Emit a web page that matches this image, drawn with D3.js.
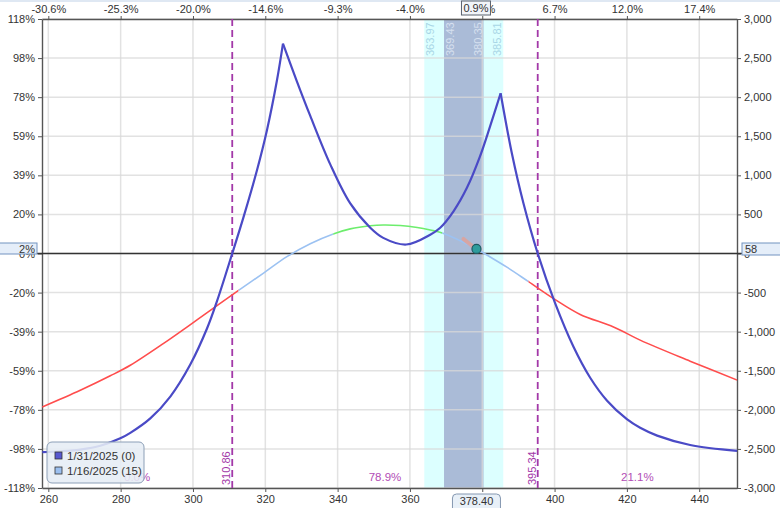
<!DOCTYPE html>
<html>
<head>
<meta charset="utf-8">
<script src="https://cdn.jsdelivr.net/npm/d3@7"></script>
<style>
    html, body { margin: 0; padding: 0; background: #fff; }
    #map { width: 780px; height: 508px; }
    text { font-family: "Liberation Sans", Arial, sans-serif; }
</style>
</head>
<body>
<div id="map"><svg></svg></div>
<script>
// price axis (bottom) and the % change labels on top
var priceTicks = [260, 280, 300, 320, 340, 360, 380, 400, 420, 440];
var topTickLabels = ["-30.6%", "-25.3%", "-20.0%", "-14.6%", "-9.3%", "-4.0%", "1.4%", "6.7%", "12.0%", "17.4%"];

// P&L axis (right) and return % (left)
var pnlTicks = [3000, 2500, 2000, 1500, 1000, 500, 0, -500, -1000, -1500, -2000, -2500, -3000];
var pctTickLabels = ["118%", "98%", "78%", "59%", "39%", "20%", "0%", "-20%", "-39%", "-59%", "-78%", "-98%", "-118%"];

// 1/31/2025 (0) - expiration curve
var expPrices = [258.34, 263.32, 268.85, 274.38, 279.91, 282.67, 288.2, 293.73, 299.26, 303.88, 306.64, 310.86, 314.0, 317.7, 320.46, 323.23, 324.89,
    328.76, 332.44, 337.97, 343.5, 349.03, 352.62, 359.0, 365.61, 368.38, 372.05, 375.76, 379.35, 382.12, 385.08,
    388.2, 391.41, 395.34, 400.17, 405.23, 409.85, 414.46, 419.99, 423.67, 428.37, 437.49, 450.49];
var expValues = [-2541, -2530, -2508, -2460, -2365, -2295, -2110, -1830, -1420, -960, -610, 0, 468, 1065, 1577, 2216, 2685,
    2200, 1760, 1140, 640, 330, 200, 115, 240, 330, 540, 840, 1240, 1620, 2050,
    1279, 639, 0, -639, -1194, -1590, -1880, -2120, -2230, -2330, -2450, -2525];

// 1/16/2025 (15) - today curve
var t0Prices = [258.34, 268.85, 277.14, 282.67, 291.88, 301.11, 306.64, 312.61, 319.52, 325.99, 332.44, 338.79, 343.49, 349.02, 352.62,
    357.32, 362.02, 365.61, 368.93, 378.40, 382.2, 386.81, 392.79, 400.17, 407.08, 416.29, 423.67, 437.49, 450.49];
var t0Values = [-1963, -1750, -1565, -1430, -1150, -850, -668, -472, -250, -40, 125, 250, 315, 355, 365,
    358, 332, 300, 262, 58, -45, -175, -360, -590, -780, -939, -1108, -1377, -1620];
var t0ZoneEdges = [312.61, 338.79, 368.93, 392.79];

var breakevens = [310.86, 395.34];
var probLabels = ["0.0%", "78.9%", "21.1%"];
var sdBands = [363.97, 369.43, 380.35, 385.81];
var currentPrice = 378.40, currentPnl = 58, currentPctLabel = "2%", changeLabel = "0.9%";
var legendLabels = ["1/31/2025 (0)", "1/16/2025 (15)"];

function drawChart() {
    var width = 780, height = 508,
        svg = d3.select('#map svg').attr('width', width).attr('height', height),
        x = d3.scaleLinear().domain([258.25, 450.45]).range([42, 737]),
        y = d3.scaleLinear().domain([-3000, 3000]).range([488, 19]),
        fmt = d3.formatLocale({decimal: ".", thousands: ",", grouping: [3], currency: ["$", ""], minus: "-"}).format(",");

    svg.append("rect").attr("width", width).attr("height", 2).attr("fill", "#dfe8f3");

    // 1 SD / 0.5 SD bands
    svg.append("rect")
        .attr("x", x(sdBands[0])).attr("y", 19)
        .attr("width", x(sdBands[3]) - x(sdBands[0])).attr("height", 469)
        .attr("fill", "#dcffff");
    svg.append("rect")
        .attr("x", x(sdBands[1])).attr("y", 19)
        .attr("width", x(sdBands[2]) - x(sdBands[1])).attr("height", 469)
        .attr("fill", "#aabbd7");

    // grid
    svg.append("g").selectAll("line")
        .data(priceTicks).enter().append("line")
        .attr("x1", function (d) { return x(d); }).attr("x2", function (d) { return x(d); })
        .attr("y1", 19).attr("y2", 488)
        .attr("stroke", "#d8d8d8").attr("stroke-opacity", 0.75).attr("stroke-width", 1.5);
    svg.append("g").selectAll("line")
        .data(pnlTicks).enter().append("line")
        .attr("x1", 42).attr("x2", 737)
        .attr("y1", function (d) { return y(d); }).attr("y2", function (d) { return y(d); })
        .attr("stroke", "#d8d8d8").attr("stroke-opacity", 0.75).attr("stroke-width", 1.5);

    // band labels
    svg.append("g").selectAll("text")
        .data(sdBands).enter().append("text")
        .attr("transform", function (d, i) {
            var px = x(d) + (i < 2 ? 6 : -6);
            return "translate(" + (px + 4) + ",56) rotate(-90)";
        })
        .attr("font-size", 11)
        .attr("fill", function (d, i) { return (i === 0 || i === 3) ? "#a9d6e6" : "#d6e0ef"; })
        .text(function (d) { return d3.format(".2f")(d); });

    // axes
    var axes = [
        d3.axisLeft(y).tickValues(pnlTicks).tickFormat(function (d, i) { return pctTickLabels[i]; }).tickSize(4).tickSizeOuter(0),
        d3.axisRight(y).tickValues(pnlTicks).tickFormat(fmt).tickSize(4).tickSizeOuter(0),
        d3.axisBottom(x).tickValues(priceTicks).tickSize(4).tickSizeOuter(0),
        d3.axisTop(x).tickValues(priceTicks).tickFormat(function (d, i) { return topTickLabels[i]; }).tickSize(3).tickSizeOuter(0)
    ];
    var offsets = ["translate(42,0)", "translate(737,0)", "translate(0,488)", "translate(0,19)"];
    axes.forEach(function (ax, i) {
        var g = svg.append("g").attr("transform", offsets[i]).call(ax);
        g.select(".domain").attr("stroke", "#555").attr("stroke-width", 1.4);
        g.selectAll(".tick line").attr("stroke", "#555");
        g.selectAll("text").attr("font-size", 11).attr("fill", "#333")
            .attr("font-family", "'Liberation Sans', Arial, sans-serif");
    });

    // zero line
    svg.append("line")
        .attr("x1", 37).attr("x2", 742).attr("y1", y(0)).attr("y2", y(0))
        .attr("stroke", "#333").attr("stroke-width", 1.3);

    // breakevens
    svg.append("g").selectAll("line")
        .data(breakevens).enter().append("line")
        .attr("x1", function (d) { return x(d); }).attr("x2", function (d) { return x(d); })
        .attr("y1", 19).attr("y2", 488)
        .attr("stroke", "#a338a8").attr("stroke-width", 1.8).attr("stroke-dasharray", "7,4");
    svg.append("g").selectAll("text")
        .data(breakevens).enter().append("text")
        .attr("transform", function (d) { return "translate(" + (x(d) - 2) + ",485) rotate(-90)"; })
        .attr("font-size", 11).attr("fill", "#a338a8")
        .text(function (d) { return d3.format(".2f")(d); });

    // probability labels between axis edges and breakevens
    var edges = [x.domain()[0]].concat(breakevens, [x.domain()[1]]);
    svg.append("g").selectAll("text")
        .data(probLabels).enter().append("text")
        .attr("x", function (d, i) { return x((edges[i] + edges[i + 1]) / 2); })
        .attr("y", 481)
        .attr("text-anchor", "middle").attr("font-size", 11.5).attr("fill", "#b24db6")
        .text(function (d) { return d; });

    var line = d3.line()
        .x(function (d) { return x(d[0]); })
        .y(function (d) { return y(d[1]); })
        .curve(d3.curveCatmullRom.alpha(0.5));

    // today curve, coloured by zones
    var t0 = d3.zip(t0Prices, t0Values),
        zoneColors = ["#ff4d4d", "#9cc2f2", "#6ded6d", "#9cc2f2", "#ff4d4d"],
        zoneBounds = [x.domain()[0]].concat(t0ZoneEdges, [x.domain()[1]]),
        defs = svg.append("defs");
    zoneColors.forEach(function (c, i) {
        defs.append("clipPath").attr("id", "zone" + i)
            .append("rect")
            .attr("x", x(zoneBounds[i])).attr("y", 0)
            .attr("width", x(zoneBounds[i + 1]) - x(zoneBounds[i])).attr("height", height);
        svg.append("path")
            .datum(t0)
            .attr("d", line)
            .attr("clip-path", "url(#zone" + i + ")")
            .attr("fill", "none").attr("stroke", c).attr("stroke-width", 1.6);
    });

    // expiration curve, split at the peaks so they stay sharp
    var exp = d3.zip(expPrices, expValues), cuts = [0];
    for (var i = 1; i < exp.length - 1; i += 1) {
        if (exp[i][1] > exp[i - 1][1] && exp[i][1] > exp[i + 1][1]) {
            cuts.push(i);
        }
    }
    cuts.push(exp.length - 1);
    for (var k = 0; k < cuts.length - 1; k += 1) {
        svg.append("path")
            .datum(exp.slice(cuts[k], cuts[k + 1] + 1))
            .attr("d", line)
            .attr("fill", "none").attr("stroke", "#4a4ac6").attr("stroke-width", 2.2)
            .attr("stroke-linejoin", "round");
    }

    // current price marker
    var cx = x(currentPrice), cy = y(currentPnl);
    svg.append("line")
        .attr("x1", cx - 13).attr("y1", cy - 10).attr("x2", cx - 3).attr("y2", cy - 2)
        .attr("stroke", "#f09a86").attr("stroke-opacity", 0.65).attr("stroke-width", 4)
        .attr("stroke-linecap", "round");
    svg.append("circle")
        .attr("cx", cx).attr("cy", cy).attr("r", 4.5)
        .attr("fill", "#2f9c9c").attr("stroke", "#1d5a62").attr("stroke-width", 1.2);

    // value boxes
    svg.append("rect").attr("x", -2).attr("y", 243).attr("width", 39).attr("height", 11)
        .attr("fill", "#e5eef9").attr("stroke", "#7393c0");
    svg.append("text").attr("x", 35).attr("y", 252.5).attr("text-anchor", "end")
        .attr("font-size", 11).attr("fill", "#333").text(currentPctLabel);
    svg.append("rect").attr("x", 742).attr("y", 243).attr("width", 40).attr("height", 12)
        .attr("fill", "#e5eef9").attr("stroke", "#7393c0");
    svg.append("text").attr("x", 745).attr("y", 252.5)
        .attr("font-size", 11).attr("fill", "#333").text(currentPnl);

    svg.append("rect").attr("x", cx - 24).attr("y", 494).attr("width", 48).attr("height", 18).attr("rx", 4)
        .attr("fill", "#e8f0f8").attr("stroke", "#8497b0");
    svg.append("text").attr("x", cx).attr("y", 504.5).attr("text-anchor", "middle")
        .attr("font-size", 11).attr("fill", "#333").text(d3.format(".2f")(currentPrice));

    svg.append("rect").attr("x", cx - 15).attr("y", 1).attr("width", 29).attr("height", 14)
        .attr("fill", "#f2f5f9").attr("stroke", "#59626e");
    svg.append("text").attr("x", cx - 0.5).attr("y", 12).attr("text-anchor", "middle")
        .attr("font-size", 11).attr("fill", "#333").text(changeLabel);

    // legend
    var legend = svg.append("g").attr("transform", "translate(47,442)");
    legend.append("rect").attr("width", 97).attr("height", 41).attr("rx", 5)
        .attr("fill", "#e6edf5").attr("fill-opacity", 0.88).attr("stroke", "#8c9fb7");
    var swatch = ["#5858d0", "#9cc0f0"];
    legend.selectAll("g.item")
        .data(legendLabels).enter().append("g")
        .attr("class", "item")
        .attr("transform", function (d, i) { return "translate(8," + (10 + i * 15) + ")"; })
        .each(function (d, i) {
            var g = d3.select(this);
            g.append("rect").attr("width", 7).attr("height", 7)
                .attr("fill", swatch[i]).attr("stroke", "#333").attr("stroke-width", 0.8);
            g.append("text").attr("x", 12).attr("y", 7.5)
                .attr("font-size", 11.5).attr("fill", "#333").text(d);
        });
}

drawChart();
</script>
</body>
</html>
